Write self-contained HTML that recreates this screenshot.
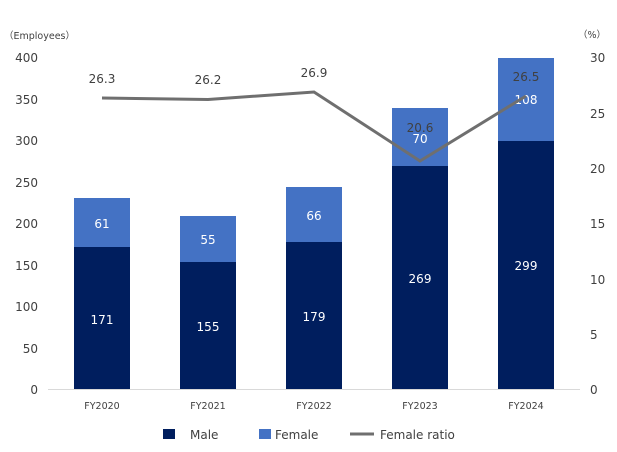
<!DOCTYPE html>
<html><head><meta charset="utf-8"><style>
body{margin:0;background:#fff}
svg{display:block;font-family:"DejaVu Sans","Liberation Sans","Noto Sans CJK JP",sans-serif}
</style></head><body>
<svg width="617" height="452" viewBox="0 0 617 452" xmlns="http://www.w3.org/2000/svg">
<rect width="617" height="452" fill="#fff"/>
<text x="4" y="39" font-size="9.5" fill="#404040">（Employees）</text>
<text x="578" y="38" font-size="9.5" fill="#404040">（%）</text>
<g font-size="12" fill="#404040" text-anchor="end">
<text x="38" y="394">0</text><text x="38" y="353">50</text><text x="38" y="311">100</text>
<text x="38" y="270">150</text><text x="38" y="228">200</text><text x="38" y="187">250</text>
<text x="38" y="145">300</text><text x="38" y="104">350</text><text x="38" y="62">400</text>
</g>
<g font-size="12" fill="#404040" text-anchor="start">
<text x="590" y="394">0</text><text x="590" y="339">5</text><text x="590" y="284">10</text>
<text x="590" y="228">15</text><text x="590" y="173">20</text><text x="590" y="118">25</text>
<text x="590" y="62">30</text>
</g>
<line x1="48" y1="389.5" x2="580" y2="389.5" stroke="#d9d9d9"/>
<g>
<rect x="74" y="247" width="56" height="142" fill="#001e5e"/><rect x="74" y="198" width="56" height="49" fill="#4472c4"/>
<rect x="180" y="262" width="56" height="127" fill="#001e5e"/><rect x="180" y="216" width="56" height="46" fill="#4472c4"/>
<rect x="286" y="242" width="56" height="147" fill="#001e5e"/><rect x="286" y="187" width="56" height="55" fill="#4472c4"/>
<rect x="392" y="166" width="56" height="223" fill="#001e5e"/><rect x="392" y="108" width="56" height="58" fill="#4472c4"/>
<rect x="498" y="141" width="56" height="248" fill="#001e5e"/><rect x="498" y="58" width="56" height="83" fill="#4472c4"/>
</g>
<g font-size="12" fill="#fff" text-anchor="middle">
<text x="102" y="324">171</text><text x="102" y="228">61</text>
<text x="208" y="331">155</text><text x="208" y="244">55</text>
<text x="314" y="321">179</text><text x="314" y="220">66</text>
<text x="420" y="283">269</text><text x="420" y="143">70</text>
<text x="526" y="270">299</text><text x="526" y="104">108</text>
</g>
<polyline points="102,98 208,99.5 314,92 420,161 526,96" fill="none" stroke="#6f6f6f" stroke-width="3"/>
<g font-size="12" fill="#404040" text-anchor="middle">
<text x="102" y="83">26.3</text><text x="208" y="84">26.2</text><text x="314" y="77">26.9</text>
<text x="420" y="132">20.6</text><text x="526" y="81">26.5</text>
</g>
<g font-size="9.5" fill="#404040" text-anchor="middle">
<text x="102" y="409">FY2020</text><text x="208" y="409">FY2021</text><text x="314" y="409">FY2022</text>
<text x="420" y="409">FY2023</text><text x="526" y="409">FY2024</text>
</g>
<rect x="163" y="429" width="12" height="10" fill="#001e5e"/>
<text x="190" y="439" font-size="12" fill="#404040">Male</text>
<rect x="259" y="429" width="12" height="10" fill="#4472c4"/>
<text x="275" y="439" font-size="12" fill="#404040">Female</text>
<line x1="350" y1="434" x2="374" y2="434" stroke="#6f6f6f" stroke-width="3"/>
<text x="380" y="439" font-size="12" fill="#404040">Female ratio</text>
</svg>
</body></html>
